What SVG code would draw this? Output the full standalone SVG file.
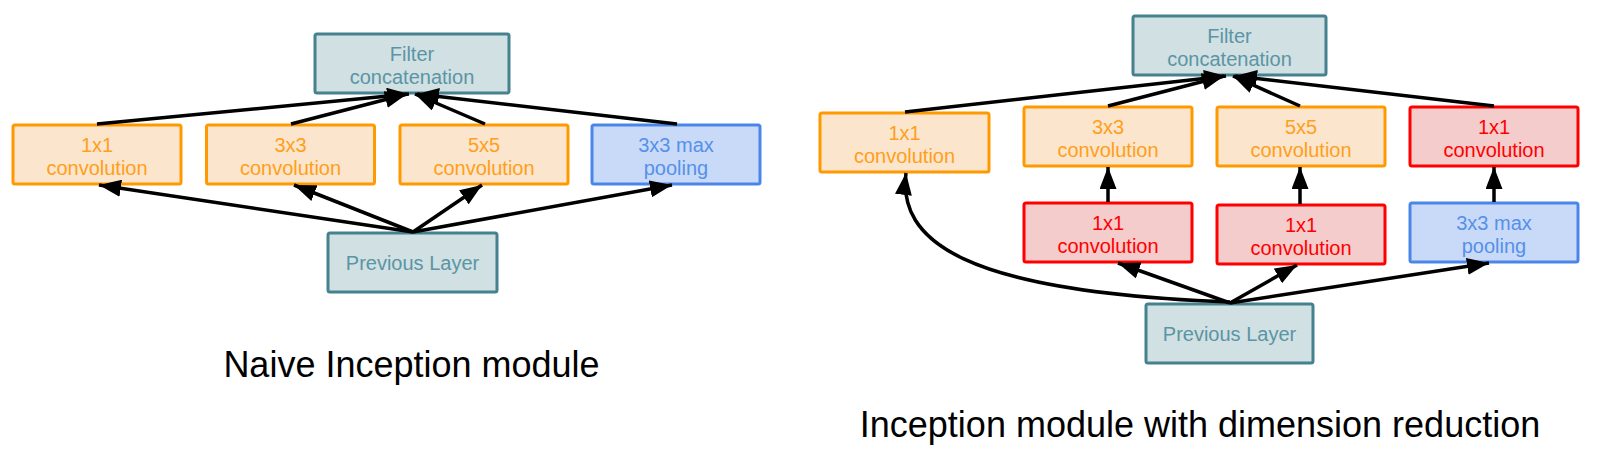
<svg xmlns="http://www.w3.org/2000/svg" width="1600" height="469" viewBox="0 0 1600 469">
<style>
text{font-family:"Liberation Sans",Arial,sans-serif;font-size:20px;text-anchor:middle}
.teal rect{fill:#d0e0e3;stroke:#45818e;stroke-width:3}
.teal text{fill:#5b95a3}
.orange rect{fill:#fce5cd;stroke:#ff9900;stroke-width:3}
.orange text{fill:#ff9f1a}
.blue rect{fill:#c9daf8;stroke:#4a86e8;stroke-width:3}
.blue text{fill:#5590ea}
.red rect{fill:#f4cccc;stroke:#ff0000;stroke-width:3}
.red text{fill:#ff0000}
.title{font-size:36px;fill:#000}
#connectors path,#connectors line{stroke:#000;stroke-width:3.5;fill:none;marker-end:url(#arr)}
</style>
<defs>
<marker id="arr" viewBox="0 0 22 17" refX="22" refY="8.5" markerWidth="22" markerHeight="17" markerUnits="userSpaceOnUse" orient="auto">
<path d="M0,0 L22,8.5 L0,17 z" fill="#000"/>
</marker>
</defs>

<!-- Naive module -->
<g id="n_filter" class="teal"><rect x="315" y="34" width="194" height="59" rx="2"/><text x="412" y="60.5">Filter</text><text x="412" y="83.5">concatenation</text></g>
<g id="n_c1" class="orange"><rect x="13" y="125" width="168" height="59" rx="2"/><text x="97" y="151.5">1x1</text><text x="97" y="174.5">convolution</text></g>
<g id="n_c3" class="orange"><rect x="206.5" y="125" width="168" height="59" rx="2"/><text x="290.5" y="151.5">3x3</text><text x="290.5" y="174.5">convolution</text></g>
<g id="n_c5" class="orange"><rect x="400" y="125" width="168" height="59" rx="2"/><text x="484" y="151.5">5x5</text><text x="484" y="174.5">convolution</text></g>
<g id="n_pool" class="blue"><rect x="592" y="125" width="168" height="59" rx="2"/><text x="676" y="151.5">3x3 max</text><text x="676" y="174.5">pooling</text></g>
<g id="n_prev" class="teal"><rect x="328" y="233" width="169" height="59" rx="2"/><text x="412.5" y="269.5">Previous Layer</text></g>
<text class="title" x="411.5" y="377">Naive Inception module</text>

<!-- Dimension reduction module -->
<g id="d_filter" class="teal"><rect x="1133" y="16" width="193" height="59" rx="2"/><text x="1229.5" y="42.5">Filter</text><text x="1229.5" y="65.5">concatenation</text></g>
<g id="d_c1" class="orange"><rect x="820" y="113" width="169" height="59" rx="2"/><text x="904.5" y="139.5">1x1</text><text x="904.5" y="162.5">convolution</text></g>
<g id="d_c3" class="orange"><rect x="1024" y="107" width="168" height="59" rx="2"/><text x="1108" y="133.5">3x3</text><text x="1108" y="156.5">convolution</text></g>
<g id="d_c5" class="orange"><rect x="1217" y="107" width="168" height="59" rx="2"/><text x="1301" y="133.5">5x5</text><text x="1301" y="156.5">convolution</text></g>
<g id="d_r4" class="red"><rect x="1410" y="107" width="168" height="59" rx="2"/><text x="1494" y="133.5">1x1</text><text x="1494" y="156.5">convolution</text></g>
<g id="d_r2" class="red"><rect x="1024" y="203" width="168" height="59" rx="2"/><text x="1108" y="229.5">1x1</text><text x="1108" y="252.5">convolution</text></g>
<g id="d_r3" class="red"><rect x="1217" y="205" width="168" height="59" rx="2"/><text x="1301" y="231.5">1x1</text><text x="1301" y="254.5">convolution</text></g>
<g id="d_pool" class="blue"><rect x="1410" y="203" width="168" height="59" rx="2"/><text x="1494" y="229.5">3x3 max</text><text x="1494" y="252.5">pooling</text></g>
<g id="d_prev" class="teal"><rect x="1146" y="304" width="167" height="59" rx="2"/><text x="1229.5" y="340.5">Previous Layer</text></g>
<text class="title" x="1200" y="437">Inception module with dimension reduction</text>

<g id="connectors">
<line x1="97" y1="124" x2="409" y2="94"/>
<line x1="291" y1="124" x2="407" y2="94"/>
<line x1="485" y1="124" x2="415" y2="94"/>
<line x1="677" y1="124" x2="417" y2="94"/>
<line x1="413" y1="232" x2="99" y2="185"/>
<line x1="413" y1="232" x2="294" y2="185"/>
<line x1="413" y1="232" x2="482" y2="185"/>
<line x1="413" y1="232" x2="672" y2="185"/>

<line x1="905" y1="112" x2="1226" y2="76"/>
<line x1="1108" y1="106" x2="1224" y2="76"/>
<line x1="1300" y1="106" x2="1233" y2="76"/>
<line x1="1494" y1="106" x2="1235" y2="76"/>
<line x1="1108" y1="202" x2="1108" y2="167"/>
<line x1="1300" y1="204" x2="1300" y2="167"/>
<line x1="1494" y1="202" x2="1494" y2="167"/>
<line x1="1230" y1="303" x2="1118" y2="263"/>
<line x1="1230" y1="303" x2="1297" y2="265"/>
<line x1="1230" y1="303" x2="1489" y2="263"/>
<path d="M1230,302 C960,292 898,240 906,173"/>
</g>
</svg>
